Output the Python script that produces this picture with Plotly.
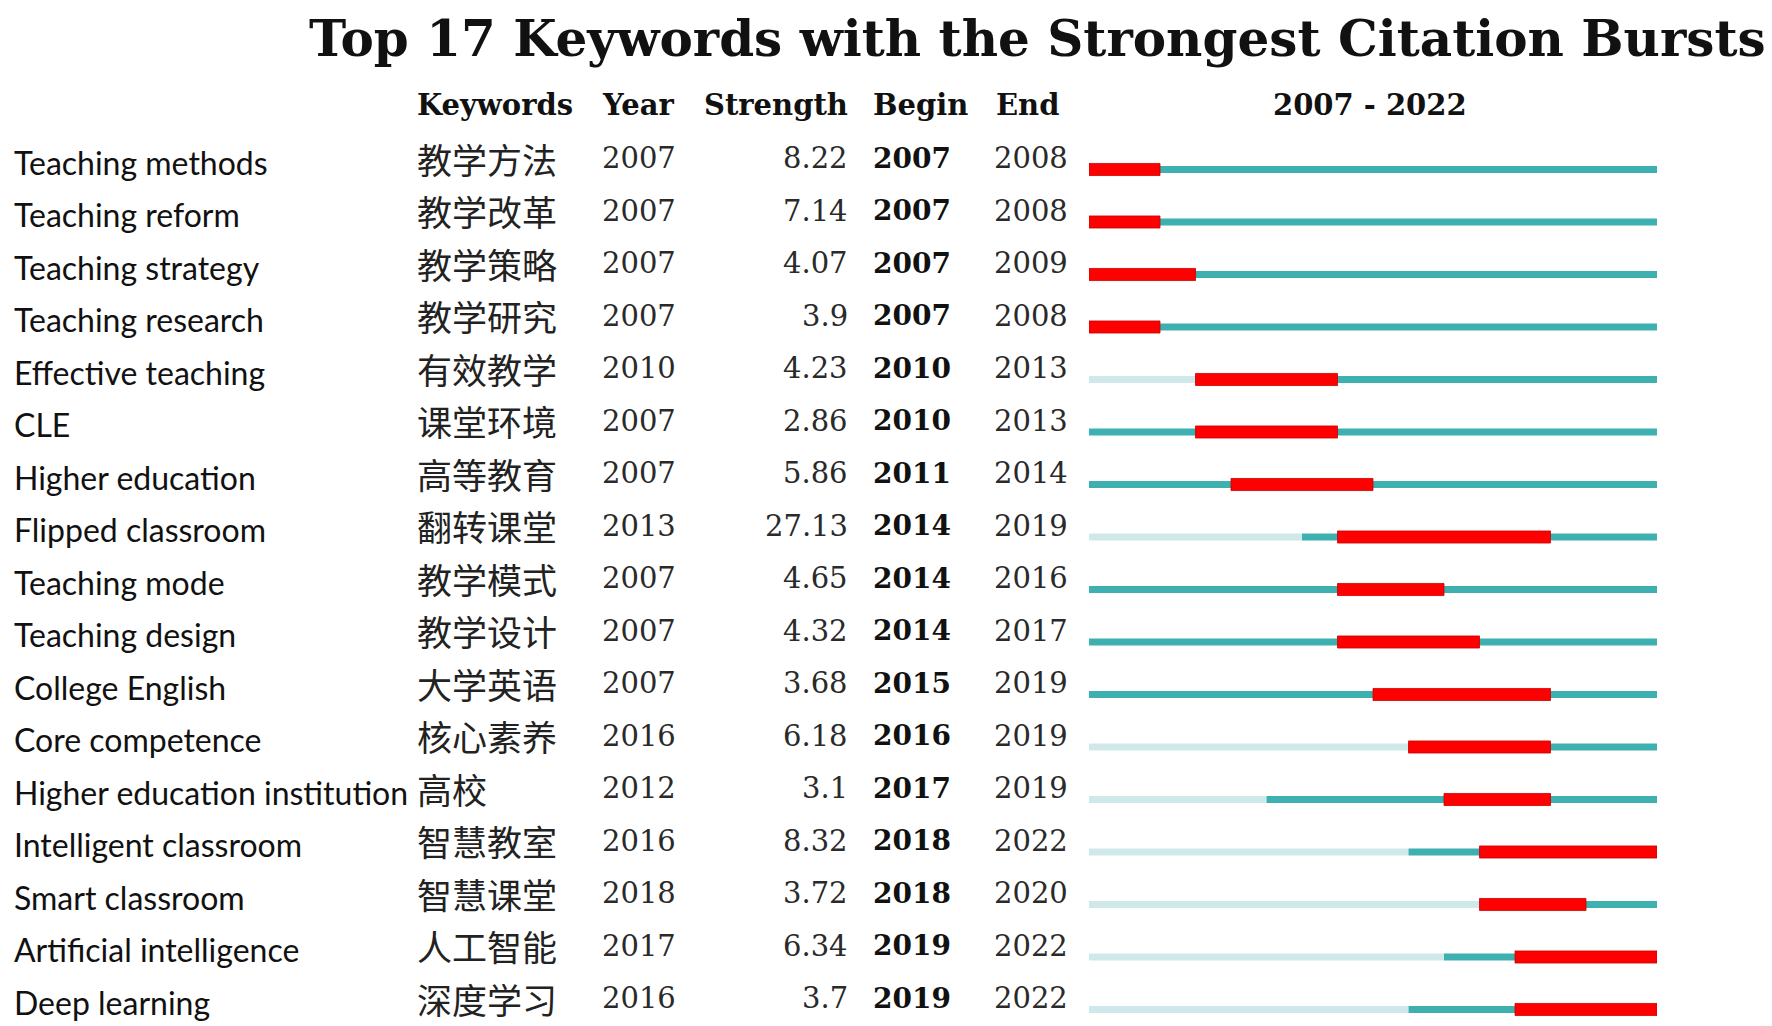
import plotly.graph_objects as go

# data
keywords_en = [
    "Teaching methods", "Teaching reform", "Teaching strategy", "Teaching research",
    "Effective teaching", "CLE", "Higher education", "Flipped classroom",
    "Teaching mode", "Teaching design", "College English", "Core competence",
    "Higher education institution", "Intelligent classroom", "Smart classroom",
    "Artificial intelligence", "Deep learning",
]
keywords_cn = [
    "教学方法", "教学改革", "教学策略", "教学研究", "有效教学", "课堂环境", "高等教育",
    "翻转课堂", "教学模式", "教学设计", "大学英语", "核心素养", "高校", "智慧教室",
    "智慧课堂", "人工智能", "深度学习",
]
first_year = [2007, 2007, 2007, 2007, 2010, 2007, 2007, 2013, 2007, 2007, 2007,
              2016, 2012, 2016, 2018, 2017, 2016]
strength = ["8.22", "7.14", "4.07", "3.9", "4.23", "2.86", "5.86", "27.13", "4.65",
            "4.32", "3.68", "6.18", "3.1", "8.32", "3.72", "6.34", "3.7"]
begin = [2007, 2007, 2007, 2007, 2010, 2010, 2011, 2014, 2014, 2014, 2015,
         2016, 2017, 2018, 2018, 2019, 2019]
end = [2008, 2008, 2009, 2008, 2013, 2013, 2014, 2019, 2016, 2017, 2019,
       2019, 2019, 2022, 2020, 2022, 2022]
headers = ["Keywords", "Year", "Strength", "Begin", "End"]
period_start, period_end = 2007, 2022

# the page puts the figure 8px in from the top-left corner
OFF = 8
W, H = 1772 - OFF, 1026 - OFF
ROW0, ROWH = 169.5 - OFF, 52.5
rows = list(range(len(keywords_en)))

fig = go.Figure()

# light part before the keyword first appears
fig.add_trace(go.Bar(
    y=rows, x=[fy - period_start for fy in first_year], base=[period_start] * len(rows),
    orientation="h", width=0.13, marker=dict(color="#cfe9ea", line=dict(width=0)),
    hoverinfo="skip",
))
# teal part from first appearance to the end of the period
fig.add_trace(go.Bar(
    y=rows, x=[period_end + 1 - fy for fy in first_year], base=first_year,
    orientation="h", width=0.13, marker=dict(color="#3fb0b0", line=dict(width=0)),
    hoverinfo="skip",
))
# red burst
fig.add_trace(go.Bar(
    y=rows, x=[e + 1 - b for b, e in zip(begin, end)], base=begin,
    orientation="h", width=0.23,
    marker=dict(color="#ff0000", line=dict(width=0.8, color="#c80000")),
    hoverinfo="skip",
))


def px(x):
    # page pixel -> paper fraction
    return (x - OFF) / W


num_font = "DejaVu Serif"
ann = []
for i in rows:
    ann.append(dict(x=px(12), y=i - 0.14, text=keywords_en[i], xanchor="left",
                    font=dict(family="Lato", size=32, color="#111")))
    ann.append(dict(x=px(415), y=i - 0.21, text=keywords_cn[i], xanchor="left",
                    font=dict(family="Noto Sans CJK SC", size=35, color="#222")))
    ann.append(dict(x=px(600), y=i - 0.21, text=str(first_year[i]), xanchor="left",
                    font=dict(family=num_font, size=29, color="#2a2a2a")))
    ann.append(dict(x=px(850), y=i - 0.21, text=strength[i], xanchor="right",
                    font=dict(family=num_font, size=29, color="#2a2a2a")))
    ann.append(dict(x=px(871), y=i - 0.21, text="<b>%d</b>" % begin[i], xanchor="left",
                    font=dict(family=num_font, size=28, color="#111")))
    ann.append(dict(x=px(992), y=i - 0.21, text=str(end[i]), xanchor="left",
                    font=dict(family=num_font, size=29, color="#2a2a2a")))

header_x = [415, 600, 850, 871, 994]
header_anchor = ["left", "left", "right", "left", "left"]
for h, hx, anc in zip(headers, header_x, header_anchor):
    ann.append(dict(x=px(hx), y=-1.23, text="<b>%s</b>" % h, xanchor=anc,
                    font=dict(family="DejaVu Serif", size=29, color="#111")))
ann.append(dict(x=px(1370), y=-1.23, text="<b>%d - %d</b>" % (period_start, period_end),
                xanchor="center", font=dict(family="DejaVu Serif", size=29, color="#111")))

for a in ann:
    a.update(xref="paper", yref="y", yanchor="middle", showarrow=False)

# title sits right at the top edge
ann.append(dict(x=px(1037), y=1, xref="paper", yref="paper", xanchor="center",
                yanchor="top", showarrow=False, borderpad=0,
                text="<b>Top 17 Keywords with the Strongest Citation Bursts</b>",
                font=dict(family="DejaVu Serif", size=50, color="#111")))

fig.update_layout(
    width=W, height=H,
    margin=dict(l=0, r=0, t=0, b=0),
    paper_bgcolor="white", plot_bgcolor="white",
    barmode="overlay", showlegend=False,
    annotations=ann,
    xaxis=dict(domain=[px(1089), px(1657)], range=[period_start, period_end + 1],
               visible=False, fixedrange=True),
    yaxis=dict(range=[(H - ROW0) / ROWH, -ROW0 / ROWH], visible=False, fixedrange=True),
)

fig.write_html("out.html")
